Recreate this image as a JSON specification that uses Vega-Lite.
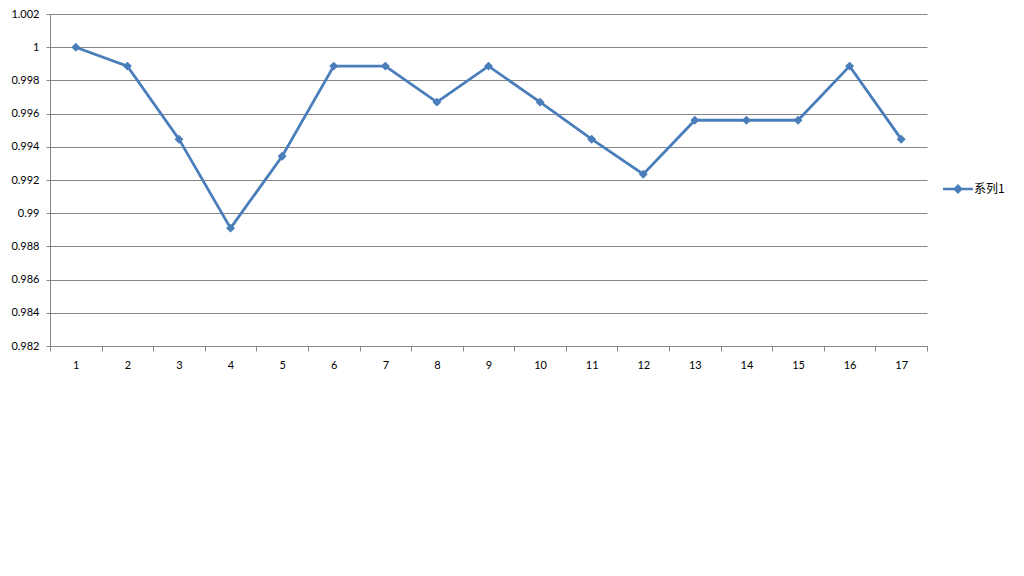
{
  "$schema": "https://vega.github.io/schema/vega-lite/v6.json",
  "width": 877,
  "height": 332,
  "autosize": "none",
  "padding": {"left": 50, "top": 14, "right": 97, "bottom": 230},
  "background": "white",
  "config": {
    "view": {"stroke": null},
    "font": "Lato",
    "axis": {"labelFont": "Lato", "labelFontSize": 11, "labelColor": "#000000", "domainColor": "#868686", "tickColor": "#868686", "gridColor": "#868686", "gridOpacity": 1}
  },
  "data": {
    "values": [
      {"x": 1, "y": 1.0, "s": "系列1"},
      {"x": 2, "y": 0.99886, "s": "系列1"},
      {"x": 3, "y": 0.99446, "s": "系列1"},
      {"x": 4, "y": 0.9891, "s": "系列1"},
      {"x": 5, "y": 0.99343, "s": "系列1"},
      {"x": 6, "y": 0.99886, "s": "系列1"},
      {"x": 7, "y": 0.99886, "s": "系列1"},
      {"x": 8, "y": 0.99669, "s": "系列1"},
      {"x": 9, "y": 0.99886, "s": "系列1"},
      {"x": 10, "y": 0.99669, "s": "系列1"},
      {"x": 11, "y": 0.99446, "s": "系列1"},
      {"x": 12, "y": 0.99235, "s": "系列1"},
      {"x": 13, "y": 0.9956, "s": "系列1"},
      {"x": 14, "y": 0.9956, "s": "系列1"},
      {"x": 15, "y": 0.9956, "s": "系列1"},
      {"x": 16, "y": 0.99886, "s": "系列1"},
      {"x": 17, "y": 0.99446, "s": "系列1"}
    ]
  },
  "mark": {"type": "line", "strokeWidth": 2.8, "point": {"shape": "diamond", "filled": true, "size": 80}},
  "encoding": {
    "x": {
      "field": "x", "type": "ordinal",
      "scale": {"type": "band", "paddingInner": 0, "paddingOuter": 0},
      "axis": {"title": null, "labelAngle": 0, "tickBand": "extent", "tickSize": 5, "labelPadding": 8, "grid": false}
    },
    "y": {
      "field": "y", "type": "quantitative",
      "scale": {"domain": [0.982, 1.002], "zero": false, "nice": false},
      "axis": {"title": null, "values": [0.982, 0.984, 0.986, 0.988, 0.99, 0.992, 0.994, 0.996, 0.998, 1, 1.002], "format": ".3~f", "tickSize": 4, "labelPadding": 7, "grid": true}
    },
    "color": {
      "field": "s", "type": "nominal",
      "scale": {"range": ["#4A7EBB"]},
      "legend": {
        "title": null, "orient": "none", "legendX": 893, "legendY": 160,
        "symbolType": "M -1 -0.09 L 1 -0.09 L 1 0.09 L -1 0.09 Z M 0 -0.33 L 0.33 0 L 0 0.33 L -0.33 0 Z",
        "symbolSize": 900, "symbolStrokeWidth": 0, "symbolFillColor": "#4A7EBB",
        "labelFont": "Noto Sans CJK SC", "labelFontSize": 12, "labelColor": "#000000", "labelOffset": 1
      }
    }
  }
}
